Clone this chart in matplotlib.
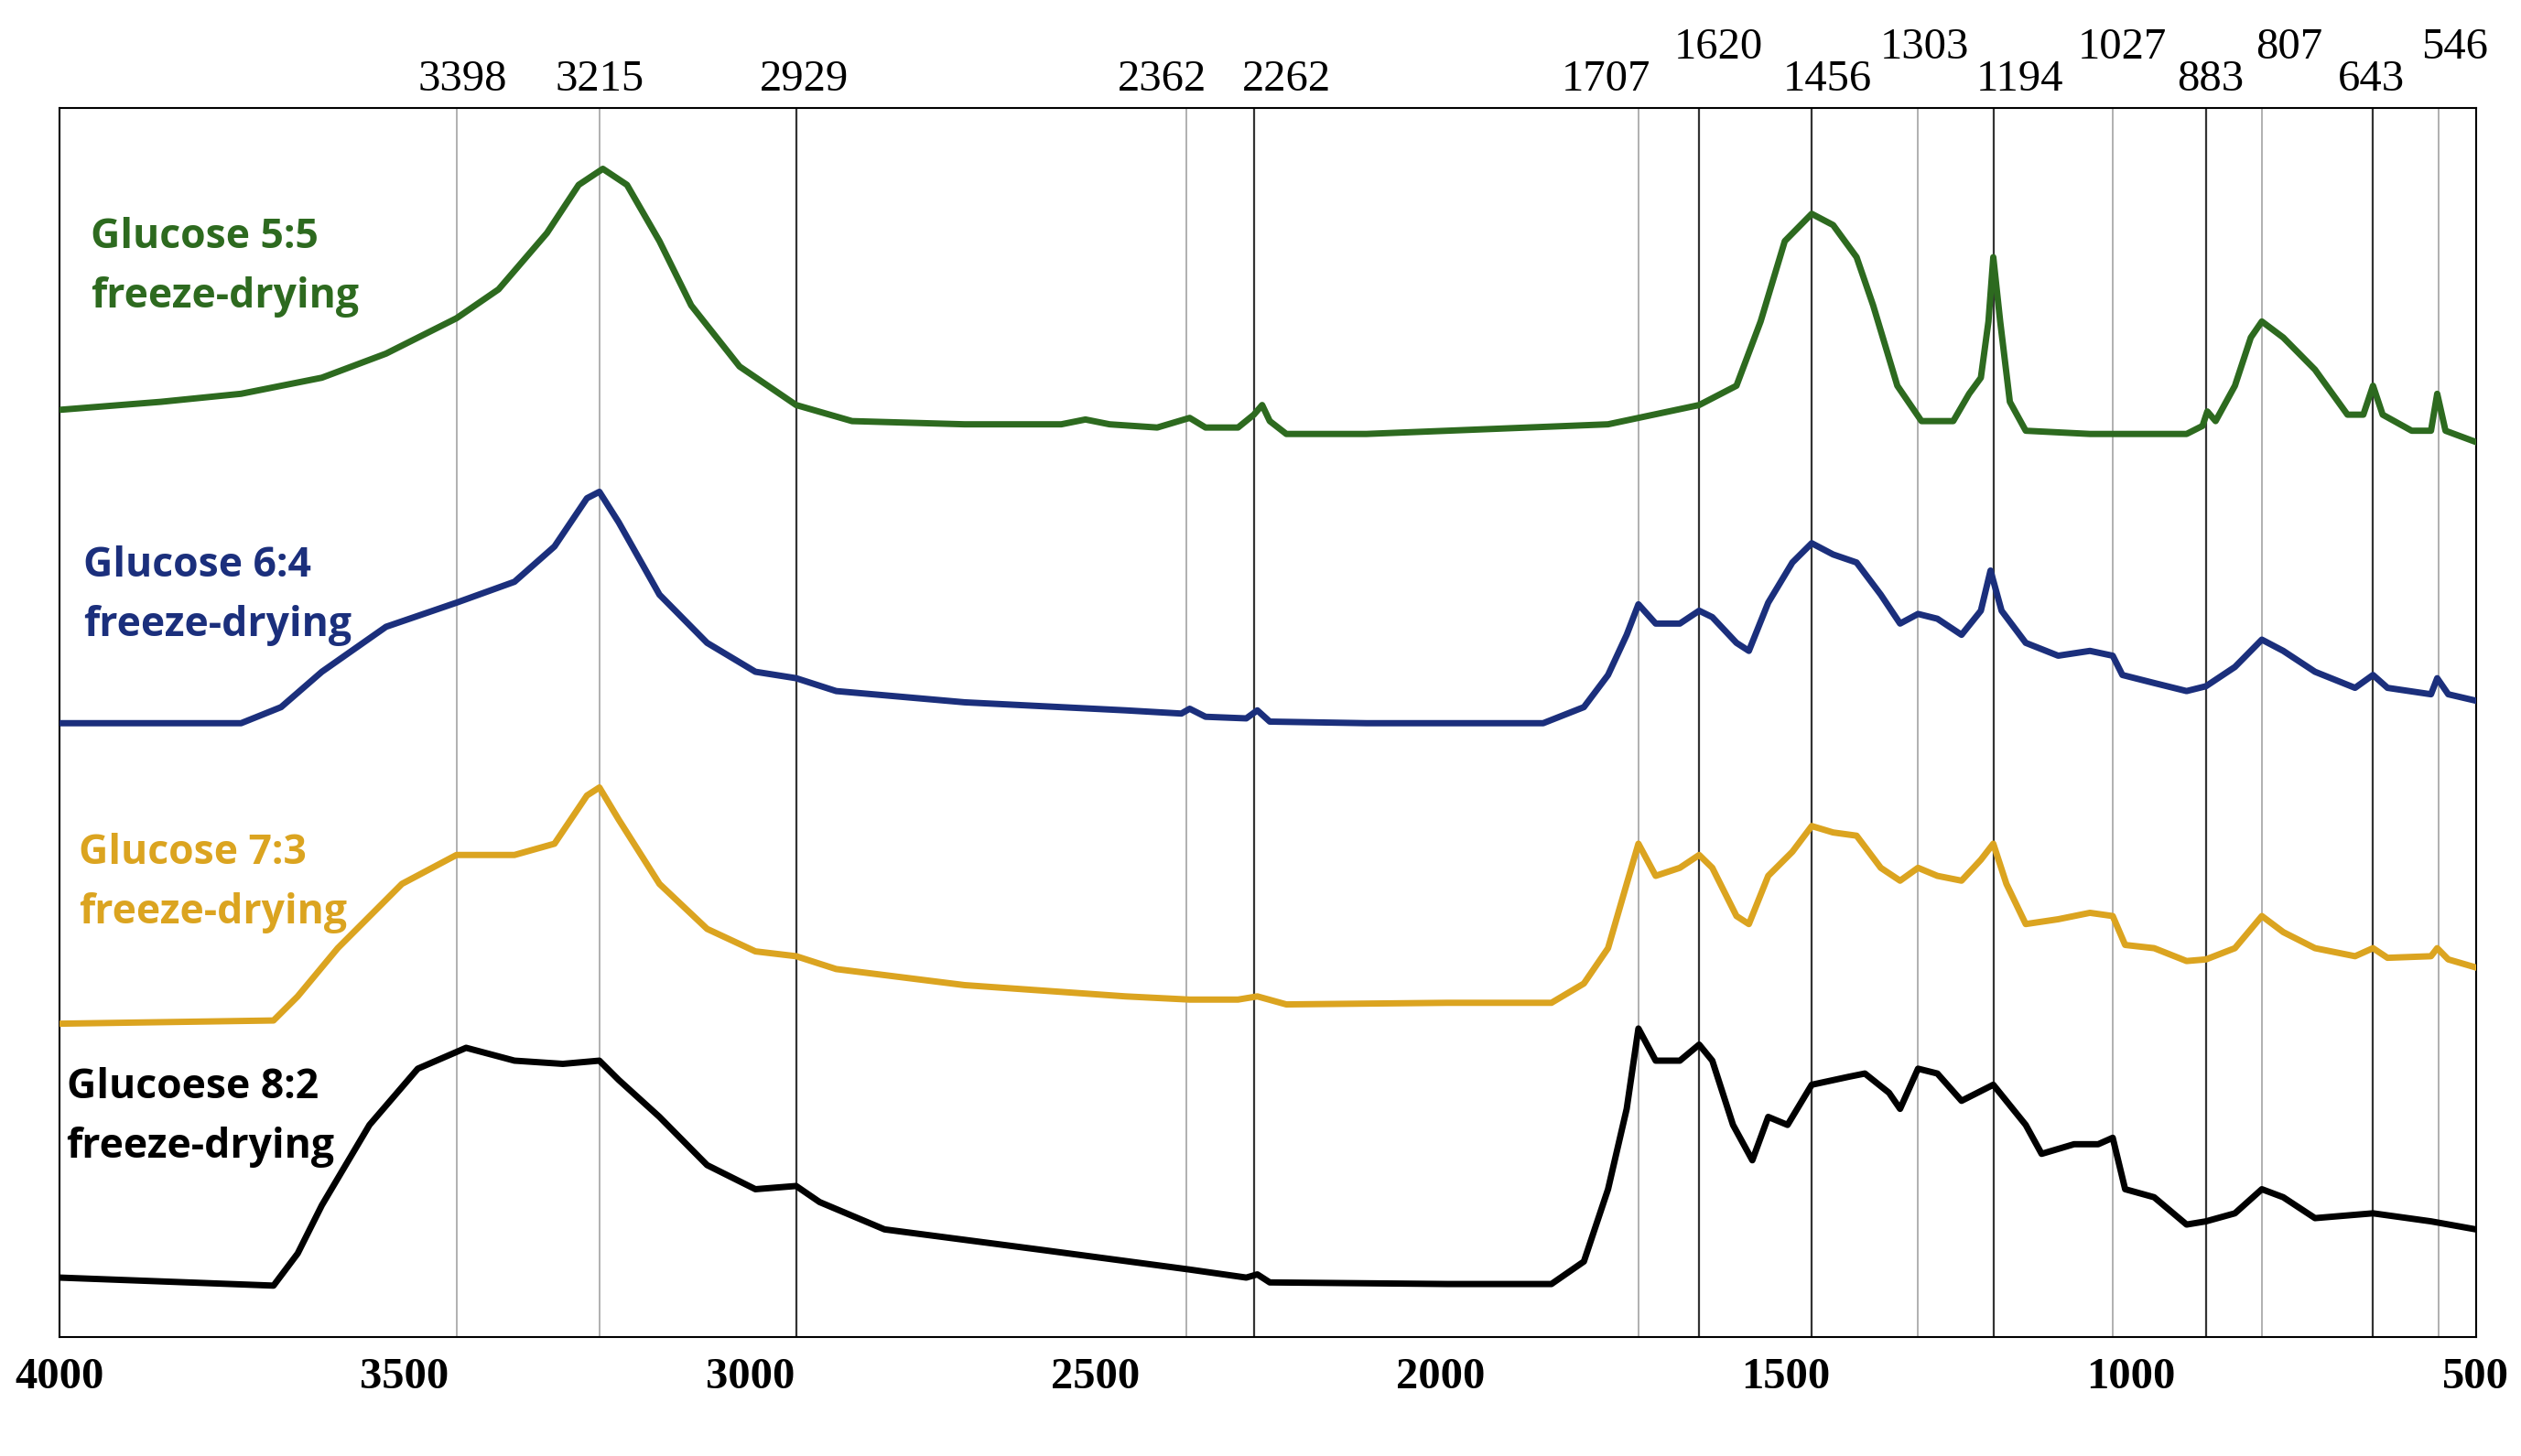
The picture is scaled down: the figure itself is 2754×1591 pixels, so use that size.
import matplotlib.pyplot as plt

# wavenumber (cm-1) and relative signal (arbitrary units, inverted axis)
wn_55 = [4000, 3853, 3737, 3620, 3527, 3425, 3364, 3294, 3248, 3213, 3178, 3131, 3085, 3015, 2933,
         2852, 2689, 2549, 2514, 2479, 2410, 2363, 2340, 2293, 2270, 2258, 2247, 2223, 2107, 1990,
         1757, 1713, 1625, 1571, 1536, 1501, 1462, 1431, 1397, 1373, 1338, 1303, 1257, 1234, 1217,
         1206, 1199, 1189, 1175, 1152, 1059, 919, 896, 889, 877, 849, 826, 810, 779, 733, 686, 663,
         649, 635, 593, 565, 556, 544, 500]
y_55 = [255, 250, 245, 235, 220, 198, 180, 145, 115, 105, 115, 150, 190, 228, 252,
        262, 264, 264, 261, 264, 266, 260, 266, 266, 258, 252, 262, 270, 270, 268,
        264, 260, 252, 240, 200, 150, 133, 140, 160, 190, 240, 262, 262, 245, 235,
        200, 160, 200, 250, 268, 270, 270, 265, 256, 262, 240, 210, 200, 210, 230, 258, 258,
        240, 258, 268, 268, 245, 268, 275]

wn_64 = [4000, 3737, 3679, 3620, 3527, 3425, 3341, 3283, 3236, 3218, 3190, 3131, 3062, 2992, 2933,
         2875, 2689, 2456, 2375, 2363, 2340, 2281, 2265, 2247, 2107, 1851, 1792, 1757, 1730, 1713,
         1688, 1653, 1625, 1606, 1571, 1553, 1525, 1490, 1462, 1431, 1397, 1362, 1334, 1308, 1280,
         1245, 1217, 1203, 1187, 1152, 1105, 1059, 1026, 1012, 966, 919, 891, 849, 810, 779, 733,
         675, 649, 628, 565, 556, 540, 500]
y_64 = [450, 450, 440, 418, 390, 375, 362, 340, 310, 306, 325, 370, 400, 418, 422,
        430, 437, 442, 444, 441, 446, 447, 442, 449, 450, 450, 440, 420, 395, 376,
        388, 388, 380, 384, 400, 405, 375, 350, 338, 345, 350, 370, 388, 382, 385,
        395, 380, 355, 380, 400, 408, 405, 408, 420, 425, 430, 427, 415, 398, 405, 418,
        428, 420, 428, 432, 422, 432, 436]

wn_73 = [4000, 3690, 3655, 3597, 3504, 3425, 3341, 3283, 3236, 3218, 3190, 3131, 3062, 2992, 2933,
         2875, 2689, 2456, 2363, 2293, 2265, 2223, 1990, 1839, 1792, 1757, 1730, 1713, 1688, 1653,
         1625, 1606, 1571, 1553, 1525, 1490, 1462, 1431, 1397, 1362, 1334, 1308, 1280, 1245, 1217,
         1199, 1180, 1152, 1105, 1059, 1026, 1008, 966, 919, 891, 849, 810, 779, 733, 675, 649,
         628, 565, 556, 540, 500]
y_73 = [637, 635, 620, 590, 550, 532, 532, 525, 495, 490, 510, 550, 578, 592, 595,
        603, 613, 620, 622, 622, 620, 625, 624, 624, 612, 590, 550, 525, 545, 540,
        532, 540, 570, 575, 545, 530, 514, 518, 520, 540, 548, 540, 545, 548, 535,
        525, 550, 575, 572, 568, 570, 588, 590, 598, 597, 590, 570, 580, 590, 595, 590,
        596, 595, 590, 597, 602]

wn_82 = [4000, 3690, 3655, 3620, 3551, 3481, 3411, 3341, 3271, 3218, 3190, 3131, 3062, 2992, 2933,
         2899, 2805, 2573, 2363, 2281, 2265, 2247, 1990, 1839, 1792, 1757, 1730, 1713, 1688, 1653,
         1625, 1606, 1576, 1548, 1525, 1497, 1462, 1408, 1385, 1350, 1334, 1308, 1280, 1245, 1199,
         1152, 1129, 1082, 1047, 1026, 1008, 966, 919, 891, 849, 810, 779, 733, 649, 565, 500]
y_82 = [795, 800, 780, 750, 700, 665, 652, 660, 662, 660, 672, 695, 725, 740, 738,
        748, 765, 778, 790, 795, 793, 798, 799, 799, 785, 740, 690, 640, 660, 660,
        650, 660, 700, 722, 695, 700, 675, 670, 668, 680, 690, 665, 668, 685, 675,
        700, 718, 712, 712, 708, 740, 745, 762, 760, 755, 740, 745, 758, 755, 760, 765]

series = [
    (wn_55, y_55, '#2d6a1f', 'Glucose 5:5', 148),
    (wn_64, y_64, '#1b2f7c', 'Glucose 6:4', 352),
    (wn_73, y_73, '#dba420', 'Glucose 7:3', 531),
    (wn_82, y_82, '#000000', 'Glucoese 8:2', 677),
]

peaks = [3398, 3215, 2929, 2362, 2262, 1707, 1620, 1456, 1303, 1194, 1027, 883, 807, 643, 546]
peak_pos = [3425, 3218, 2933, 2368, 2270, 1713, 1625, 1462, 1308, 1199, 1026, 891, 810, 649, 554]
label_pos = [3416, 3218, 2922, 2403, 2223, 1760, 1597, 1439, 1299, 1161, 1012, 884, 770, 652, 531]
peak_high = [False, False, False, False, False, False, True, False, True, False, True, False, True, False, True]
peak_dark = [False, False, True, False, True, False, True, True, False, True, False, True, False, True, False]

fig = plt.figure(figsize=(27.54, 15.91), dpi=100)
ax = fig.add_axes([0.0236, 0.0817, 0.9585, 0.8443])

for p, lp, lab, hi, dk in zip(peak_pos, label_pos, peaks, peak_high, peak_dark):
    ax.axvline(p, color='#333333' if dk else '#aaaaaa', lw=1.6 if dk else 1.3, zorder=1)
    ax.text(lp, 42 if hi else 62, str(lab), ha='center', va='bottom',
            fontsize=35, family='Liberation Serif', clip_on=False)

for wn, y, col, name, ty in series:
    ax.plot(wn, y, color=col, lw=5, solid_joinstyle='round', zorder=3)

x_text = [3955, 3965, 3972, 3990]
for (wn, y, col, name, ty), xt in zip(series, x_text):
    ax.text(xt, ty, name, color=col, fontsize=32, fontweight='bold', family='Open Sans', va='center')
    ax.text(xt, ty + 37, 'freeze-drying', color=col, fontsize=32, fontweight='bold',
            family='Open Sans', va='center')

ax.set_xlim(4000, 500)
ax.set_ylim(832, 67)
ax.set_xticks([4000, 3500, 3000, 2500, 2000, 1500, 1000, 500])
ax.tick_params(axis='x', length=0, pad=16, labelsize=35)
for t in ax.get_xticklabels():
    t.set_family('Liberation Serif')
    t.set_fontweight('bold')
ax.set_yticks([])
for s in ax.spines.values():
    s.set_linewidth(1.5)

fig.savefig('out.png', dpi=100)
